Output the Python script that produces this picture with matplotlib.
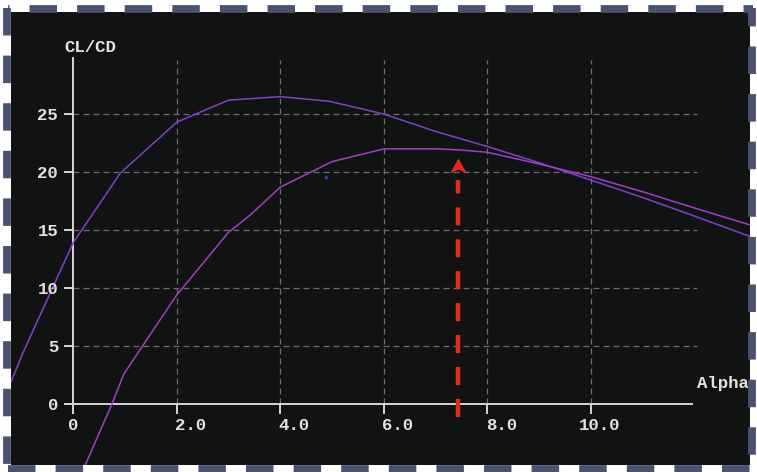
import matplotlib
matplotlib.use('Agg')
import matplotlib.pyplot as plt
from matplotlib.lines import Line2D
from matplotlib.path import Path
from matplotlib.transforms import offset_copy

plt.rcParams['font.family'] = ['Liberation Mono', 'DejaVu Sans Mono']
plt.rcParams['font.weight'] = 'bold'
plt.rcParams['lines.scale_dashes'] = False

# polar curves, CL/CD against Alpha
upper_alpha = [-1.2, -0.97, -0.44, 0.0, 0.91, 2.0, 3.0, 4.0, 4.95, 6.0, 7.0, 8.0, 9.0, 10.0, 11.0, 12.0, 13.1]
upper_clcd = [1.9, 4.4, 9.6, 13.9, 19.9, 24.3, 26.2, 26.5, 26.1, 25.0, 23.5, 22.2, 20.8, 19.3, 17.8, 16.2, 14.4]

lower_alpha = [0.2, 0.75, 0.98, 2.0, 3.0, 3.42, 4.0, 5.0, 6.0, 7.0, 7.5, 8.0, 9.0, 10.0, 11.0, 12.0, 13.1]
lower_clcd = [-5.6, 0.0, 2.6, 9.4, 14.8, 16.3, 18.7, 20.9, 22.0, 22.0, 21.9, 21.7, 20.7, 19.6, 18.3, 16.9, 15.4]

stray_point = (4.89, 19.6)

x_ticks = [0, 2, 4, 6, 8, 10]
x_labels = ['0', '2.0', '4.0', '6.0', '8.0', '10.0']
y_ticks = [0, 5, 10, 15, 20, 25]
y_labels = ['0', '5', '10', '15', '20', '25']

arrow_alpha = 7.43
arrow_tip = 21.2

bg = '#111313'
grid_c = '#6c6c6c'
axis_c = '#d6d6d6'
text_c = '#e4e2dc'
frame_c = '#4a5270'

W, H = 757, 472
fig = plt.figure(figsize=(W / 100, H / 100), dpi=100, facecolor='white')
ax = fig.add_axes([11 / W, 7 / H, 739 / W, 453 / H])
ax.set_facecolor(bg)
ax.set_xlim(-1.2, 13.07)
ax.set_ylim(-5.26, 33.8)
for s in ax.spines.values():
    s.set_visible(False)
ax.set_xticks([])
ax.set_yticks([])

# grid
for x in x_ticks[1:]:
    ax.plot([x, x], [0, 29.7], color=grid_c, lw=0.9, dashes=(4.3, 2.9))
for y in y_ticks[1:]:
    ax.plot([0, 12.05], [y, y], color=grid_c, lw=0.9, dashes=(4.3, 2.9))

# axes and ticks
ax.plot([-0.155, 11.95], [0, 0], color=axis_c, lw=1.4)
ax.plot([0, 0], [-0.78, 29.85], color=axis_c, lw=1.4)
for y in y_ticks:
    ax.plot([-0.155, 0], [y, y], color=axis_c, lw=1.4)
for x in x_ticks:
    ax.plot([x, x], [-0.78, 0], color=axis_c, lw=1.4)

fs = 12.5
for y, lab in zip(y_ticks, y_labels):
    tr = offset_copy(ax.transData, fig, x=-15, y=-6, units='dots')
    ax.text(0, y, lab, ha='right', va='baseline', color=text_c, fontsize=fs, transform=tr)
for x, lab in zip(x_ticks, x_labels):
    if '.' in lab:
        n_int = len(lab.split('.')[0])
        tr = offset_copy(ax.transData, fig, x=-1.5 - (n_int - 1) * 10.8, y=-26.5, units='dots')
        ax.text(x, 0, lab, ha='left', va='baseline', color=text_c, fontsize=fs, transform=tr)
    else:
        tr = offset_copy(ax.transData, fig, x=0.5, y=-26.5, units='dots')
        ax.text(x, 0, lab, ha='center', va='baseline', color=text_c, fontsize=fs, transform=tr)

ax.text(-0.17, 30.34, 'CL/CD', ha='left', va='baseline', color=text_c, fontsize=fs)
ax.text(12.05, 1.38, 'Alpha', ha='left', va='baseline', color=text_c, fontsize=fs, clip_on=False)

# curves
ax.plot(upper_alpha, upper_clcd, color='#8040cc', lw=1.1)
ax.plot(lower_alpha, lower_clcd, color='#a43cc8', lw=1.1)
ax.plot(*stray_point, 's', ms=1.6, color='#3535a5')

# red dashed arrow
ax.plot([arrow_alpha, arrow_alpha], [-1.12, 19.3], color='#e22a1a', lw=3.2,
        dashes=(13, 10), solid_capstyle='butt', dash_capstyle='butt')
head = Path([(0, 0), (-8.5, -15), (0, -11), (8.5, -15), (0, 0)],
            [Path.MOVETO, Path.LINETO, Path.LINETO, Path.LINETO, Path.CLOSEPOLY])
ax.plot(arrow_alpha, arrow_tip, marker=head, ms=21.6, color='#e22a1a', mew=0)

# dashed frame around the panel
def frame_line(x0, y0, x1, y1, offset_px):
    p = 0.72
    fig.add_artist(Line2D([x0 / W, x1 / W], [1 - y0 / H, 1 - y1 / H], transform=fig.transFigure,
                          color=frame_c, lw=5.6, linestyle=(offset_px * p, (27.5 * p, 20.1 * p)),
                          dash_capstyle='butt', solid_capstyle='butt'))

frame_line(7.5, 8.5, 753, 8.5, 26.1)
frame_line(7, 7.5, 7, 469, 0)
frame_line(7.5, 468.5, 753, 468.5, 0)
frame_line(752, 7.5, 752, 469, 9.1)

fig.savefig('out.png', dpi=100, facecolor='white')
